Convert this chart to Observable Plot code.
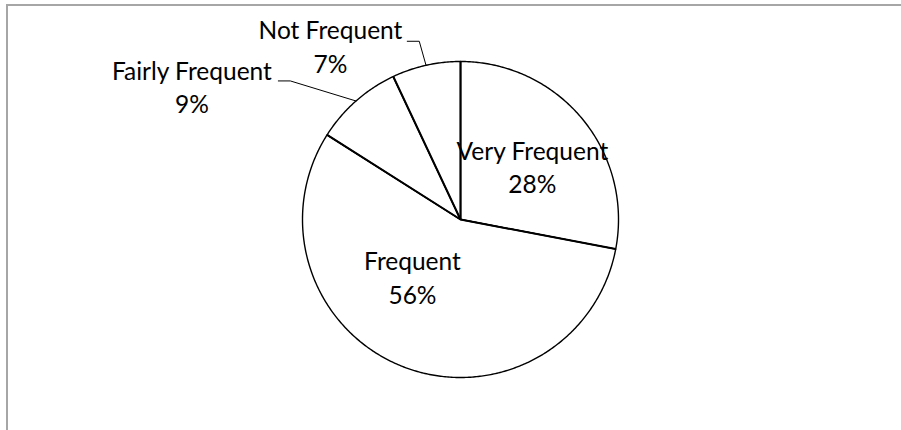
<!DOCTYPE html>
<html>
<head>
<meta charset="utf-8">
<script src="https://cdn.jsdelivr.net/npm/d3@7"></script>
<script src="https://cdn.jsdelivr.net/npm/@observablehq/plot@0.6"></script>
<style>
  html, body { margin: 0; padding: 0; background: #fff; }
  #wrap { position: relative; width: 901px; height: 430px; overflow: hidden; }
  #frame { position: absolute; left: 6px; top: 4px; right: -10px; bottom: -10px;
           border-top: 2px solid #a6a6a6; border-left: 2px solid #a6a6a6; pointer-events: none; }
  #chart { position: absolute; left: 0; top: 0; }
</style>
</head>
<body>
<div id="wrap"><div id="chart"></div><div id="frame"></div></div>
<script>
// ---- data ----
const categories = ["Very Frequent", "Frequent", "Fairly Frequent", "Not Frequent"];
const percents = [28, 56, 9, 7];

// ---- layout (pie centre / radius in pixels, label placements relative to pie) ----
const W = 901, H = 430;
const CX = 460, CY = 219, R = 158;
// label anchor (bottom line baseline, centred) in pie-radius units
const labelPos = [
  {u: 0.455, v: 0.165},
  {u: -0.304, v: -0.532},
  {u: -1.70, v: 0.671},
  {u: -0.823, v: 0.930}
];
// leader line start (in radius units) for outside labels; null = no leader
const leaderStart = [null, null, {u: -1.153, v: 0.877}, {u: -0.337, v: 1.128}];

const pie = d3.pie().sort(null).value(d => d)(percents);

// slice polygons
const slicePts = [];
pie.forEach((a, i) => {
  slicePts.push({key: categories[i], x: 0, y: 0});
  const n = Math.max(4, Math.ceil((a.endAngle - a.startAngle) / 0.01));
  for (let k = 0; k <= n; k++) {
    const t = a.startAngle + (a.endAngle - a.startAngle) * k / n;
    slicePts.push({key: categories[i], x: Math.sin(t), y: Math.cos(t)});
  }
});
// radial boundaries
const radials = pie.map(a => ({x1: 0, y1: 0, x2: Math.sin(a.startAngle), y2: Math.cos(a.startAngle)}));

// labels
const labels = pie.map((a, i) => ({
  x: labelPos[i].u, y: labelPos[i].v,
  text: categories[i] + "\n" + percents[i] + "%"
}));

// leader lines
const leaders = [];
pie.forEach((a, i) => {
  const s = leaderStart[i];
  if (!s) return;
  const mid = (a.startAngle + a.endAngle) / 2;
  leaders.push({key: i, x: s.u, y: s.v});
  leaders.push({key: i, x: s.u + 12 / R, y: s.v});
  leaders.push({key: i, x: Math.sin(mid), y: Math.cos(mid)});
});

const chart = Plot.plot({
  width: W, height: H,
  margin: 0,
  x: {domain: [-CX / R, (W - CX) / R], axis: null},
  y: {domain: [(CY - H) / R, CY / R], axis: null},
  marks: [
    Plot.line(slicePts, {x: "x", y: "y", z: "key", fill: "white", stroke: "black", strokeWidth: 1.4, curve: "linear-closed"}),
    Plot.link(radials, {x1: "x1", y1: "y1", x2: "x2", y2: "y2", stroke: "black", strokeWidth: 2}),
    Plot.line(leaders, {x: "x", y: "y", z: "key", stroke: "black", strokeWidth: 1}),
    Plot.text(labels, {x: "x", y: "y", text: "text", fill: "black", fontSize: 24.5,
      fontFamily: "Lato, 'Open Sans', sans-serif", lineHeight: 1.35, lineAnchor: "bottom", textAnchor: "middle"})
  ]
});
document.getElementById("chart").appendChild(chart);
</script>
</body>
</html>
